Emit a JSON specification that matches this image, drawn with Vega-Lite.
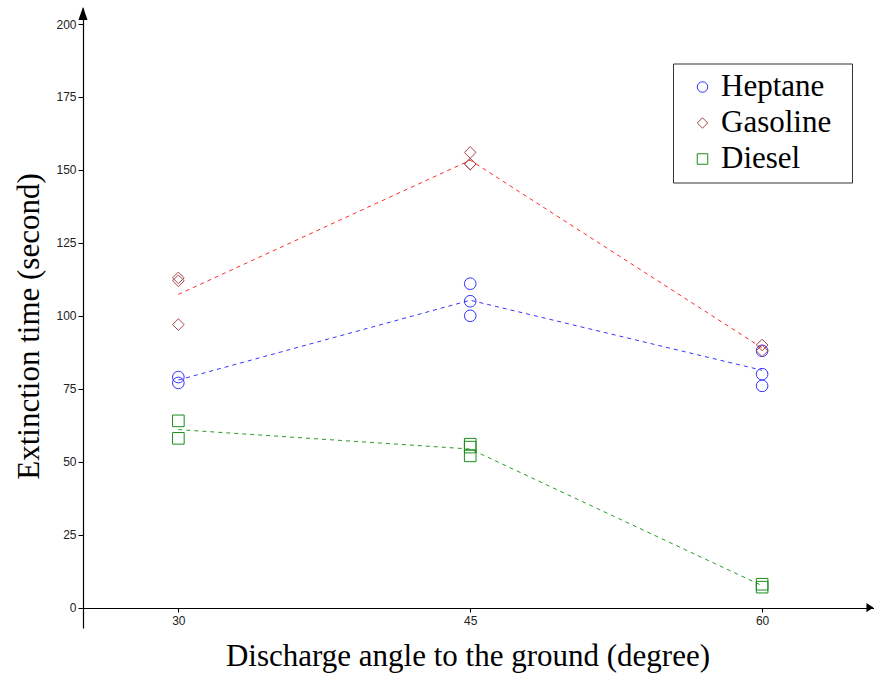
{
  "$schema": "https://vega.github.io/schema/vega-lite/v6.json",
  "width": 791,
  "height": 620,
  "autosize": {"type": "none"},
  "padding": {"left": 83, "top": 8, "right": 0, "bottom": 54},
  "background": "white",
  "config": {
    "view": {"stroke": null},
    "axis": {
      "grid": false,
      "domainColor": "black",
      "domainWidth": 1.2,
      "tickColor": "black",
      "tickWidth": 1,
      "labelFont": "Liberation Sans",
      "labelFontSize": 12,
      "labelColor": "#222222",
      "titleFont": "Liberation Serif",
      "titleFontSize": 31,
      "titleFontWeight": "normal",
      "titleColor": "black"
    },
    "legend": {
      "orient": "none",
      "legendX": 590,
      "legendY": 55.5,
      "fillColor": "white",
      "strokeColor": "#333333",
      "padding": 8,
      "rowPadding": 4,
      "symbolOffset": 6,
      "labelOffset": 3,
      "symbolSize": 110,
      "symbolStrokeWidth": 1,
      "labelFont": "Liberation Serif",
      "labelFontSize": 31,
      "labelColor": "black",
      "titleOrient": "right",
      "titlePadding": 13,
      "titleFont": "Liberation Serif",
      "titleFontSize": 12,
      "titleColor": "white"
    }
  },
  "datasets": {
    "obs": [
      {"fuel": "Heptane", "angle": 30, "time": 79},
      {"fuel": "Heptane", "angle": 30, "time": 77},
      {"fuel": "Heptane", "angle": 45, "time": 111},
      {"fuel": "Heptane", "angle": 45, "time": 105},
      {"fuel": "Heptane", "angle": 45, "time": 100},
      {"fuel": "Heptane", "angle": 60, "time": 88},
      {"fuel": "Heptane", "angle": 60, "time": 80},
      {"fuel": "Heptane", "angle": 60, "time": 76},
      {"fuel": "Gasoline", "angle": 30, "time": 113},
      {"fuel": "Gasoline", "angle": 30, "time": 112},
      {"fuel": "Gasoline", "angle": 30, "time": 97},
      {"fuel": "Gasoline", "angle": 45, "time": 156},
      {"fuel": "Gasoline", "angle": 45, "time": 152},
      {"fuel": "Gasoline", "angle": 45, "time": 152},
      {"fuel": "Gasoline", "angle": 60, "time": 90},
      {"fuel": "Gasoline", "angle": 60, "time": 88},
      {"fuel": "Diesel", "angle": 30, "time": 64},
      {"fuel": "Diesel", "angle": 30, "time": 58},
      {"fuel": "Diesel", "angle": 45, "time": 56},
      {"fuel": "Diesel", "angle": 45, "time": 55},
      {"fuel": "Diesel", "angle": 45, "time": 52},
      {"fuel": "Diesel", "angle": 60, "time": 8},
      {"fuel": "Diesel", "angle": 60, "time": 7}
    ],
    "arrowUp": [{"angle": 25.1, "time": 203.6}],
    "arrowRight": [{"angle": 65.54, "time": 0}]
  },
  "encoding": {
    "x": {
      "field": "angle",
      "type": "quantitative",
      "scale": {"domain": [25.1, 65.75], "nice": false, "zero": false},
      "axis": {
        "values": [30, 45, 60],
        "offset": -20,
        "tickSize": 4,
        "labelPadding": 3,
        "title": "Discharge angle to the ground (degree)",
        "titlePadding": 15,
        "titleX": 384.5
      }
    },
    "y": {
      "field": "time",
      "type": "quantitative",
      "scale": {"domain": [-7, 205.5], "nice": false, "zero": false},
      "axis": {
        "values": [0, 25, 50, 75, 100, 125, 150, 175, 200],
        "tickSize": 5,
        "labelPadding": 2,
        "title": "Extinction time (second)",
        "titlePadding": 10,
        "titleY": 318
      }
    }
  },
  "layer": [
    {
      "data": {"name": "obs"},
      "transform": [
        {"filter": "datum.fuel === 'Heptane'"},
        {"aggregate": [{"op": "mean", "field": "time", "as": "time"}], "groupby": ["angle"]}
      ],
      "mark": {"type": "line", "strokeDash": [4, 4], "strokeWidth": 1, "color": "#3535ff"},
      "encoding": {}
    },
    {
      "data": {"name": "obs"},
      "transform": [
        {"filter": "datum.fuel === 'Gasoline'"},
        {"aggregate": [{"op": "mean", "field": "time", "as": "time"}], "groupby": ["angle"]}
      ],
      "mark": {"type": "line", "strokeDash": [4, 4], "strokeWidth": 1, "color": "#ff2a2a"},
      "encoding": {}
    },
    {
      "data": {"name": "obs"},
      "transform": [
        {"filter": "datum.fuel === 'Diesel'"},
        {"aggregate": [{"op": "mean", "field": "time", "as": "time"}], "groupby": ["angle"]}
      ],
      "mark": {"type": "line", "strokeDash": [4, 4], "strokeWidth": 1, "color": "#2a9a2a"},
      "encoding": {}
    },
    {
      "data": {"name": "obs"},
      "mark": {"type": "point", "filled": false, "strokeWidth": 1, "size": 135, "opacity": 1},
      "encoding": {
        "color": {
          "field": "fuel",
          "type": "nominal",
          "scale": {"domain": ["Heptane", "Gasoline", "Diesel"], "range": ["#3333ff", "#a84646", "#1a8c1a"]},
          "legend": {"title": "\u00a0"}
        },
        "shape": {
          "field": "fuel",
          "type": "nominal",
          "scale": {"domain": ["Heptane", "Gasoline", "Diesel"], "range": ["circle", "diamond", "square"]},
          "legend": {"title": "\u00a0"}
        }
      }
    },
    {
      "data": {"name": "arrowUp"},
      "mark": {"type": "point", "filled": true, "color": "black", "opacity": 1, "shape": "M0,-1L0.7,1L-0.7,1Z", "size": 169},
      "encoding": {}
    },
    {
      "data": {"name": "arrowRight"},
      "mark": {"type": "point", "filled": true, "color": "black", "opacity": 1, "shape": "M1,0L-1,1.3L-1,-1.3Z", "size": 49},
      "encoding": {}
    }
  ]
}
